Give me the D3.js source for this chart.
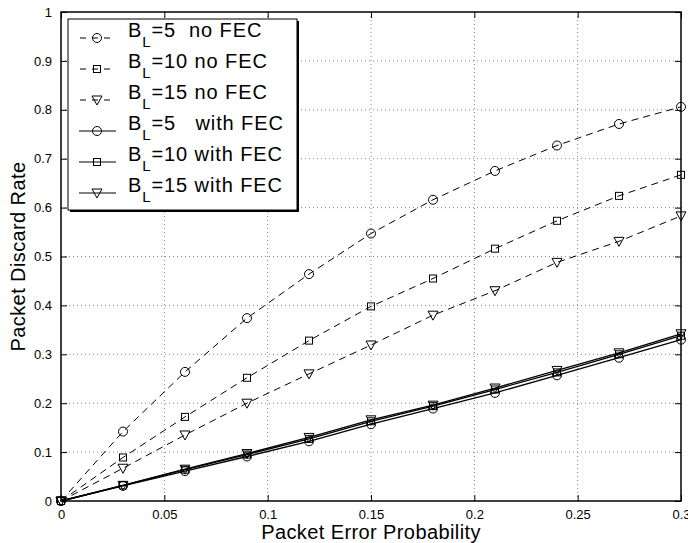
<!DOCTYPE html>
<html>
<head>
<meta charset="utf-8">
<script src="https://cdn.jsdelivr.net/npm/d3@7"></script>
<style>
  body { margin: 0; background: #fff; }
  text { font-family: "Liberation Sans", Arial, sans-serif; }
</style>
</head>
<body>
<svg id="chart" width="688" height="543"></svg>
<script>
// Packet error probability (x)
const perr = [0, 0.03, 0.06, 0.09, 0.12, 0.15, 0.18, 0.21, 0.24, 0.27, 0.30];

// Packet discard rate
const bl5NoFec   = [0, 0.142, 0.264, 0.374, 0.464, 0.547, 0.616, 0.675, 0.727, 0.771, 0.806];
const bl10NoFec  = [0, 0.089, 0.172, 0.252, 0.328, 0.398, 0.455, 0.516, 0.573, 0.624, 0.667];
const bl15NoFec  = [0, 0.067, 0.135, 0.200, 0.260, 0.319, 0.380, 0.430, 0.488, 0.531, 0.583];
const bl5Fec     = [0, 0.031, 0.061, 0.091, 0.122, 0.157, 0.189, 0.221, 0.257, 0.293, 0.330];
const bl10Fec    = [0, 0.032, 0.064, 0.095, 0.127, 0.163, 0.194, 0.228, 0.263, 0.300, 0.338];
const bl15Fec    = [0, 0.032, 0.065, 0.097, 0.130, 0.166, 0.196, 0.231, 0.267, 0.303, 0.342];

// Legend labels (after the "B" with subscript "L")
const seriesNames = ["=5  no FEC", "=10 no FEC", "=15 no FEC", "=5   with FEC", "=10 with FEC", "=15 with FEC"];

const xTicks = [0, 0.05, 0.1, 0.15, 0.2, 0.25, 0.3];
const yTicks = [0, 0.1, 0.2, 0.3, 0.4, 0.5, 0.6, 0.7, 0.8, 0.9, 1];

const series = [
  { name: seriesNames[0], values: bl5NoFec,  marker: "circle",   dashed: true },
  { name: seriesNames[1], values: bl10NoFec, marker: "square",   dashed: true },
  { name: seriesNames[2], values: bl15NoFec, marker: "triangle", dashed: true },
  { name: seriesNames[3], values: bl5Fec,    marker: "circle",   dashed: false },
  { name: seriesNames[4], values: bl10Fec,   marker: "square",   dashed: false },
  { name: seriesNames[5], values: bl15Fec,   marker: "triangle", dashed: false }
];

const svg = d3.select("#chart");
const pLeft = 61, pRight = 681, pTop = 12, pBottom = 501;

const x = d3.scaleLinear().domain([0, 0.3]).range([pLeft, pRight]);
const y = d3.scaleLinear().domain([0, 1]).range([pBottom, pTop]);

// grid (dotted)
const grid = svg.append("g");
grid.selectAll(".gx").data(xTicks.slice(1, -1)).enter().append("line")
  .attr("x1", d => x(d)).attr("x2", d => x(d))
  .attr("y1", pTop).attr("y2", pBottom)
  .attr("stroke", "#888").attr("stroke-dasharray", "1,3");
grid.selectAll(".gy").data(yTicks.slice(1, -1)).enter().append("line")
  .attr("y1", d => y(d)).attr("y2", d => y(d))
  .attr("x1", pLeft).attr("x2", pRight)
  .attr("stroke", "#888").attr("stroke-dasharray", "1,3");

// axes (matlab style, ticks inward on all four sides)
const fmt = d => String(+d.toFixed(2));
svg.append("g").attr("transform", `translate(0,${pBottom})`)
  .call(d3.axisBottom(x).tickValues(xTicks).tickFormat(fmt).tickSizeInner(-6).tickSizeOuter(0).tickPadding(9));
svg.append("g").attr("transform", `translate(0,${pTop})`)
  .call(d3.axisTop(x).tickValues(xTicks).tickFormat("").tickSizeInner(-6).tickSizeOuter(0));
svg.append("g").attr("transform", `translate(${pLeft},0)`)
  .call(d3.axisLeft(y).tickValues(yTicks).tickFormat(fmt).tickSizeInner(-6).tickSizeOuter(0).tickPadding(9));
svg.append("g").attr("transform", `translate(${pRight},0)`)
  .call(d3.axisRight(y).tickValues(yTicks).tickFormat("").tickSizeInner(-6).tickSizeOuter(0));
svg.selectAll(".tick text").attr("font-size", 13).attr("fill", "#000")
  .attr("font-family", "Liberation Sans, Arial, sans-serif");
svg.selectAll(".domain").remove();
svg.selectAll(".tick line").attr("stroke", "#000");

svg.append("rect").attr("x", pLeft).attr("y", pTop)
  .attr("width", pRight - pLeft).attr("height", pBottom - pTop)
  .attr("fill", "none").attr("stroke", "#000").attr("stroke-width", 1.5);

// markers
function drawMarker(g, type, cx, cy) {
  if (type === "circle") {
    g.append("circle").attr("cx", cx).attr("cy", cy).attr("r", 4.5)
      .attr("fill", "none").attr("stroke", "#000");
  } else if (type === "square") {
    g.append("rect").attr("x", cx - 3.5).attr("y", cy - 3.5).attr("width", 7).attr("height", 7)
      .attr("fill", "none").attr("stroke", "#000");
  } else {
    g.append("path").attr("d", `M${cx - 5},${cy - 4}L${cx + 5},${cy - 4}L${cx},${cy + 5}Z`)
      .attr("fill", "none").attr("stroke", "#000");
  }
}

const line = d3.line().x((d, i) => x(perr[i])).y(d => y(d));
series.forEach(s => {
  const g = svg.append("g");
  g.append("path").datum(s.values).attr("d", line)
    .attr("fill", "none").attr("stroke", "#000").attr("stroke-width", s.dashed ? 1 : 1.3)
    .attr("stroke-dasharray", s.dashed ? "7,5" : null);
  s.values.forEach((v, i) => drawMarker(g, s.marker, x(perr[i]), y(v)));
});

// legend
const lg = svg.append("g");
const lx = 68, ly = 19, lw = 229, lh = 191;
lg.append("rect").attr("x", lx + 2).attr("y", ly + 2).attr("width", lw).attr("height", lh).attr("fill", "#000");
lg.append("rect").attr("x", lx).attr("y", ly).attr("width", lw).attr("height", lh)
  .attr("fill", "#fff").attr("stroke", "#000").attr("stroke-width", 1);
series.forEach((s, i) => {
  const by = 37 + i * 31;
  const my = by + 1;
  lg.append("line").attr("x1", 79).attr("x2", 116).attr("y1", my).attr("y2", my)
    .attr("stroke", "#000").attr("stroke-dasharray", s.dashed ? "6,6" : null)
    .attr("stroke-dashoffset", s.dashed ? -1 : null);
  drawMarker(lg, s.marker, 97, my);
  const t = lg.append("text").attr("x", 128).attr("y", by).attr("font-size", 20)
    .attr("letter-spacing", 0.9).style("white-space", "pre");
  t.append("tspan").text("B");
  t.append("tspan").attr("dy", 10).attr("font-size", 15).text("L");
  t.append("tspan").attr("dy", -10).text(s.name);
});

// axis titles
svg.append("text").attr("x", (pLeft + pRight) / 2).attr("y", 539)
  .attr("text-anchor", "middle").attr("font-size", 20).attr("letter-spacing", 0.4)
  .text("Packet Error Probability");
svg.append("text").attr("transform", `translate(25,${(pTop + pBottom) / 2}) rotate(-90)`)
  .attr("text-anchor", "middle").attr("font-size", 20).attr("letter-spacing", 0.4)
  .text("Packet Discard Rate");
</script>
</body>
</html>
